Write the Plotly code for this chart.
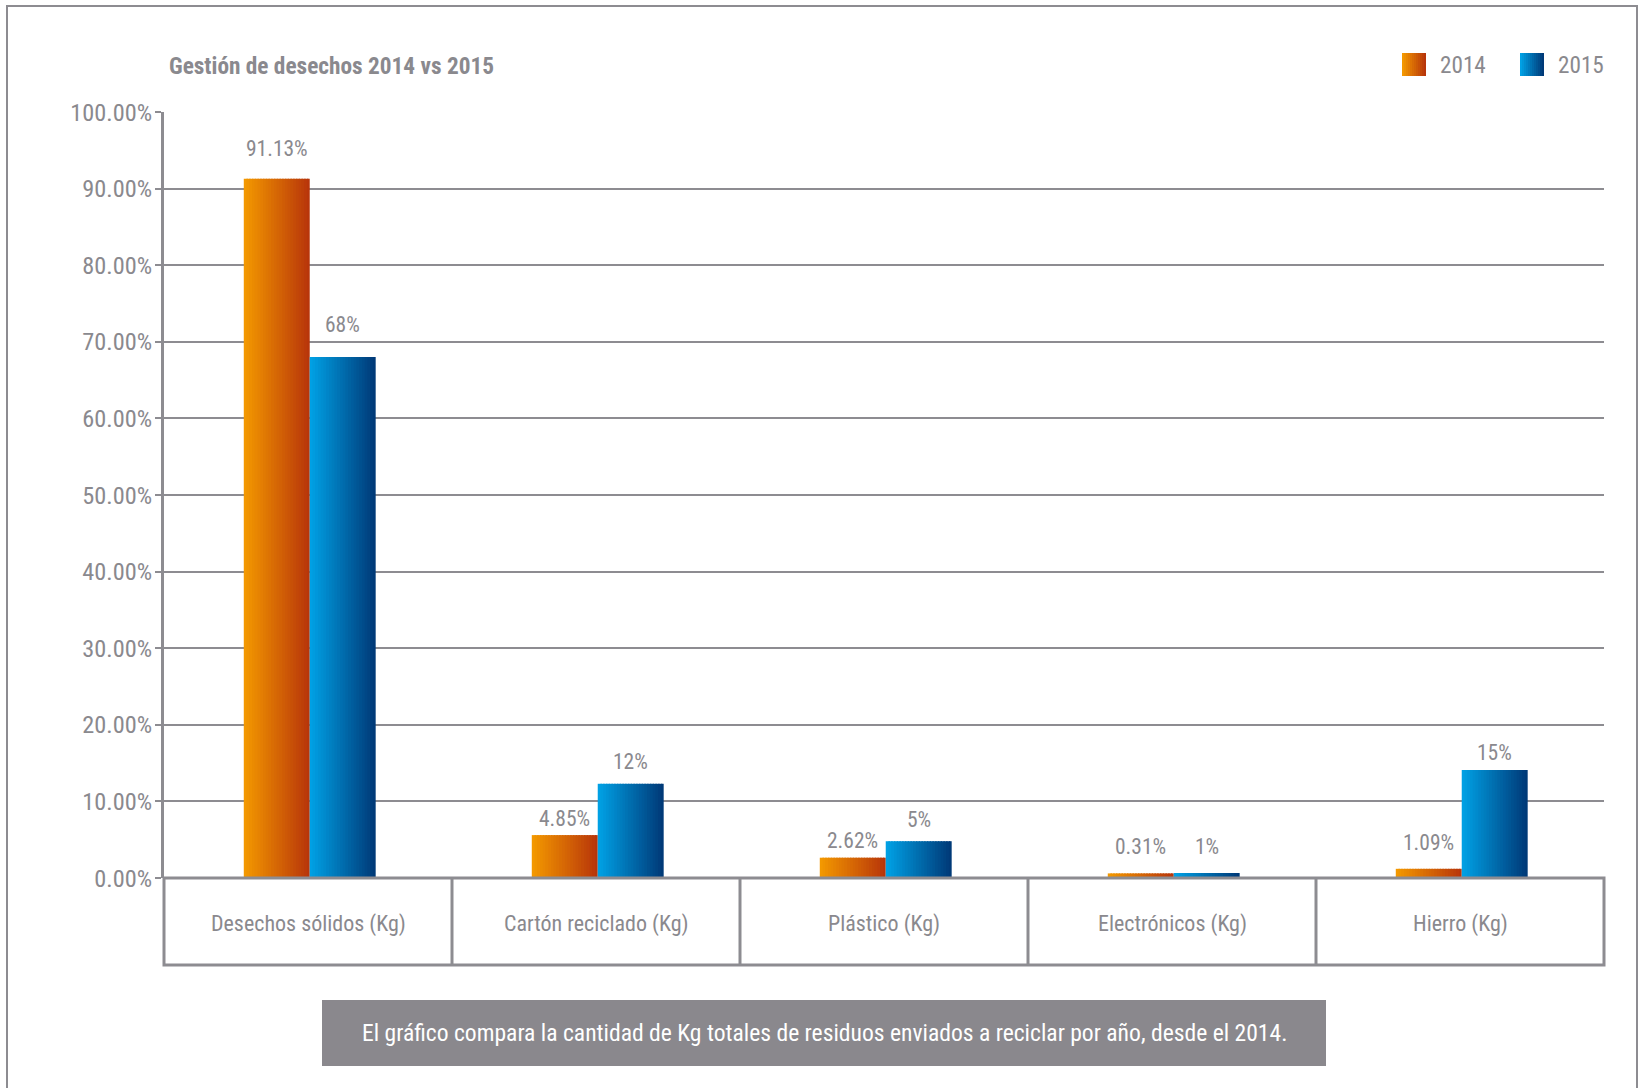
import plotly.graph_objects as go

# ---------------- data ----------------
categories = ["Desechos sólidos (Kg)", "Cartón reciclado (Kg)", "Plástico (Kg)",
              "Electrónicos (Kg)", "Hierro (Kg)"]
series_names = ["2014", "2015"]
values_2014 = [91.3, 5.6, 2.65, 0.6, 1.2]
values_2015 = [68.0, 12.3, 4.8, 0.65, 14.1]
labels_2014 = ["91.13%", "4.85%", "2.62%", "0.31%", "1.09%"]
labels_2015 = ["68%", "12%", "5%", "1%", "15%"]
y_ticks = [0, 10, 20, 30, 40, 50, 60, 70, 80, 90, 100]

title_text = "Gestión de desechos 2014 vs 2015"
caption_text = ("El gráfico compara la cantidad de Kg totales de residuos enviados "
                "a reciclar por año, desde el 2014.")

# ---------------- style ----------------
W, H = 1640, 1088
L, R, T, B = 164, 36, 112, 210
PW, PH = W - L - R, H - T - B
FONT = "Roboto Condensed, Liberation Sans Narrow, Roboto, sans-serif"
GRAY = "#8d8c91"
TEXT = "#8a898e"
grad = {
    "2014": ((243, 152, 0), (184, 54, 10)),
    "2015": ((0, 160, 228), (0, 58, 120)),
}
label_shift_2014 = [30, 17, 17, 27, 26]
label_shift_2015 = [33, 22, 22, 27, 17]
BW = 0.229   # bar width in category units
SHIFT = 0.006  # small rightward shift of the bar pair
NSTRIP = 24


def px(x):
    return (x - L) / PW


def py(y):
    return (T + PH - y) / PH


def mix(c0, c1, t):
    return "rgb({},{},{})".format(*[round(a + (b - a) * t) for a, b in zip(c0, c1)])


fig = go.Figure()

series = [("2014", values_2014, -BW + SHIFT), ("2015", values_2015, SHIFT)]
d = BW / NSTRIP
for name, vals, off in series:
    c0, c1 = grad[name]
    for i in range(NSTRIP):
        t = i / (NSTRIP - 1)
        wdt = d * 1.5 if i < NSTRIP - 1 else d
        fig.add_trace(go.Bar(
            x=categories, y=vals, name=name,
            offset=off + i * d, width=wdt,
            marker=dict(color=mix(c0, c1, t), line=dict(width=0)),
            showlegend=False, hoverinfo="skip",
        ))

annotations = []
# value labels
for vals, labs, shifts, sign in [(values_2014, labels_2014, label_shift_2014, -1),
                                 (values_2015, labels_2015, label_shift_2015, 1)]:
    for i, (v, lab, s) in enumerate(zip(vals, labs, shifts)):
        annotations.append(dict(
            x=i + SHIFT + sign * BW / 2, y=v, xref="x", yref="y", text=lab,
            showarrow=False, yshift=s, xanchor="center", yanchor="middle",
            font=dict(family=FONT, size=21.5, color=TEXT)))

# category labels
for i, c in enumerate(categories):
    annotations.append(dict(
        x=i, y=py(924), xref="x", yref="paper", text=c, showarrow=False,
        xanchor="center", yanchor="middle",
        font=dict(family=FONT, size=22, color=TEXT)))

# title
annotations.append(dict(
    x=px(167), y=py(66), xref="paper", yref="paper", text="<b>" + title_text + "</b>",
    showarrow=False, xanchor="left", yanchor="middle",
    font=dict(family=FONT, size=23.3, color=TEXT)))

# caption
annotations.append(dict(
    x=px(824), y=py(1033), xref="paper", yref="paper", text=caption_text,
    showarrow=False, xanchor="center", yanchor="middle",
    font=dict(family=FONT, size=23.6, color="white")))

shapes = []
# outer frame
shapes.append(dict(type="rect", xref="paper", yref="paper",
                   x0=px(7), x1=px(1637), y0=py(1300), y1=py(6),
                   line=dict(color=GRAY, width=2), layer="below"))
# category box
shapes.append(dict(type="rect", xref="paper", yref="paper",
                   x0=0, x1=1, y0=py(965), y1=0,
                   line=dict(color=GRAY, width=3)))
for k in range(1, len(categories)):
    shapes.append(dict(type="line", xref="paper", yref="paper",
                       x0=k / len(categories), x1=k / len(categories), y0=py(965), y1=0,
                       line=dict(color=GRAY, width=3)))
# caption box
shapes.append(dict(type="rect", xref="paper", yref="paper",
                   x0=px(322), x1=px(1326), y0=py(1066), y1=py(1000),
                   fillcolor="#8a888d", line=dict(width=0), layer="below"))

# legend (gradient squares)
leg = [("2014", 1402, 1438), ("2015", 1520, 1556)]
for name, sx, tx in leg:
    c0, c1 = grad[name]
    n = 12
    for i in range(n):
        x0 = sx + 24 * i / n
        x1 = sx + 24 * (i + 1) / n + (0.6 if i < n - 1 else 0)
        shapes.append(dict(type="rect", xref="paper", yref="paper",
                           x0=px(x0), x1=px(x1), y0=py(76), y1=py(53),
                           fillcolor=mix(c0, c1, i / (n - 1)), line=dict(width=0)))
    annotations.append(dict(
        x=px(tx), y=py(64.5), xref="paper", yref="paper", text=name,
        showarrow=False, xanchor="left", yanchor="middle",
        font=dict(family=FONT, size=23.2, color=TEXT)))

fig.update_layout(
    width=W, height=H,
    margin=dict(l=L, r=R, t=T, b=B, pad=0),
    paper_bgcolor="white", plot_bgcolor="white",
    barmode="overlay",
    showlegend=False,
    annotations=annotations,
    shapes=shapes,
    font=dict(family=FONT, color=TEXT),
    xaxis=dict(range=[-0.5, len(categories) - 0.5], showticklabels=False,
               showgrid=False, zeroline=False, showline=False, ticks=""),
    yaxis=dict(range=[0, 100], tickvals=y_ticks,
               ticktext=["{:.2f}%".format(v) for v in y_ticks],
               showline=True, linecolor=GRAY, linewidth=3,
               ticks="outside", ticklen=6, tickwidth=2, tickcolor=GRAY,
               ticklabelstandoff=-2,
               showgrid=True, gridcolor=GRAY, gridwidth=2, zeroline=False,
               tickfont=dict(family=FONT, size=24.3, color=TEXT)),
)

fig.write_html("out.html", config={"displayModeBar": False},
               post_script="document.body.style.margin='0';")
